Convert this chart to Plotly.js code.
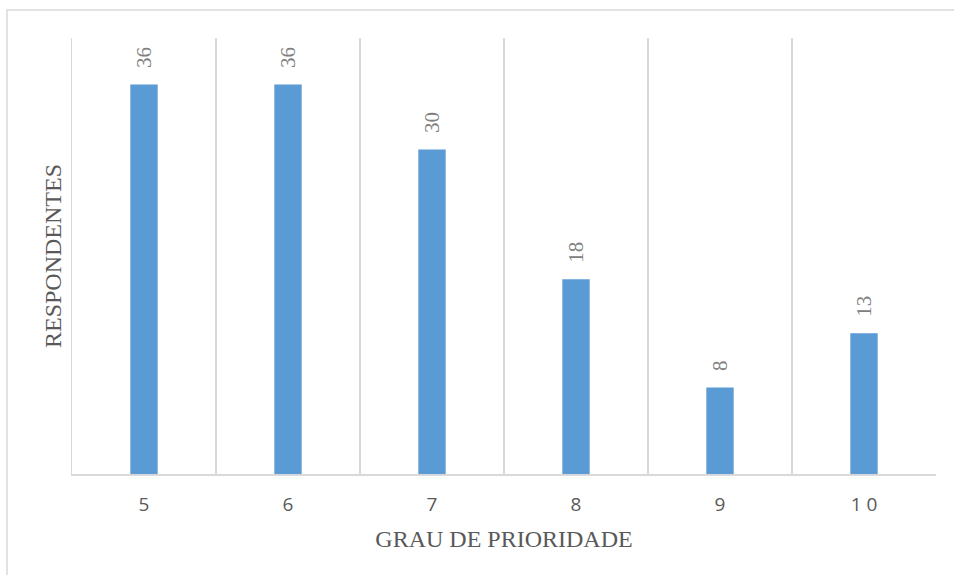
<!DOCTYPE html>
<html>
<head>
<meta charset="utf-8">
<script src="https://cdn.plot.ly/plotly-3.0.1.min.js"></script>
<style>html,body{margin:0;padding:0;background:#fff;}#chart{width:954px;height:575px;}</style>
</head>
<body>
<div id="chart"></div>
<script>
var categories = ['5', '6', '7', '8', '9', '10'];
var tickLabels = ['5', '6', '7', '8', '9', '1 0'];
var respondents = [36, 36, 30, 18, 8, 13];

var trace = {
  type: 'bar',
  x: categories,
  y: respondents,
  marker: {color: '#5b9bd5'},
  hoverinfo: 'x+y'
};

var annotations = categories.map(function (c, i) {
  return {
    x: i, y: respondents[i], xref: 'x', yref: 'y',
    text: String(respondents[i]),
    showarrow: false, textangle: -90,
    yanchor: 'bottom', xanchor: 'center', yshift: 14,
    font: {family: 'Liberation Serif, Times New Roman, serif', size: 21, color: '#808080'}
  };
});

var layout = {
  width: 954, height: 575,
  margin: {l: 72, r: 18, t: 38, b: 101},
  paper_bgcolor: '#ffffff', plot_bgcolor: '#ffffff',
  bargap: 0.81,
  showlegend: false,
  xaxis: {
    type: 'category',
    range: [-0.5, 5.5],
    tickvals: categories, ticktext: tickLabels,
    tickson: 'boundaries',
    ticks: '',
    showgrid: true, gridcolor: '#d9d9d9', gridwidth: 1.5,
    showline: true, linecolor: '#d9d9d9', linewidth: 1.5,
    tickfont: {family: 'Open Sans, sans-serif', size: 19, color: '#595959'},
    ticklabelstandoff: 13,
    title: {text: 'GRAU DE PRIORIDADE', standoff: 14,
      font: {family: 'Liberation Serif, Times New Roman, serif', size: 24, color: '#595959'}}
  },
  yaxis: {
    range: [0, 40.3],
    showgrid: false, zeroline: false,
    showticklabels: false, ticks: '',
    showline: true, linecolor: '#d9d9d9', linewidth: 1.5,
    title: {text: 'RESPONDENTES', standoff: 2,
      font: {family: 'Liberation Serif, Times New Roman, serif', size: 24, color: '#595959'}}
  },
  annotations: annotations,
  shapes: [{
    type: 'rect', xref: 'paper', yref: 'paper',
    x0: -0.0752, x1: 1.05, y0: -0.3, y1: 1.0642,
    line: {color: '#d9d9d9', width: 1.5}, fillcolor: 'rgba(0,0,0,0)', layer: 'below'
  }]
};

Plotly.newPlot('chart', [trace], layout, {displayModeBar: false, staticPlot: true});
</script>
</body>
</html>
